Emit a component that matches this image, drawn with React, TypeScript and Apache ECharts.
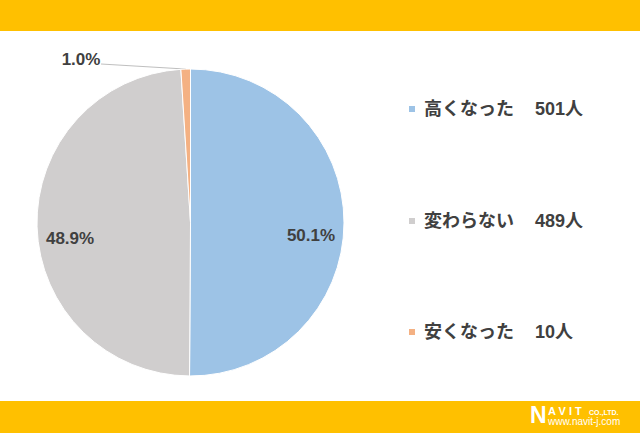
import React, { useEffect, useRef } from "react";
import * as echarts from "echarts";

const categories = ["高くなった", "変わらない", "安くなった"];
const counts = [501, 489, 10];
const colors = ["#9DC3E6", "#D0CECE", "#F4B183"];
const legendTops = [99, 211, 322];

const CX = 190.5;
const CY = 222.5;
const R = 153.5;
const FONT = "'Liberation Sans', 'Noto Sans CJK JP', sans-serif";
const TEXT = "#404040";

export default function App() {
  const ref = useRef<HTMLDivElement>(null);
  useEffect(() => {
    if (!ref.current) return;
    const chart = echarts.init(ref.current, null, { renderer: "svg" });
    const total = counts.reduce((a, b) => a + b, 0);
    const mids: number[] = [];
    let acc = 0;
    counts.forEach((c) => {
      const a = (c / total) * 360;
      mids.push(acc + a / 2);
      acc += a;
    });

    const data = categories.map((name, i) => {
      const inner = i < 2;
      return {
        name,
        value: counts[i],
        itemStyle: { color: colors[i] },
        label: { position: inner ? "inside" : "outside" },
        labelLine: { show: !inner, lineStyle: { color: "#BFBFBF", width: 1 }, length: 5, length2: 20 },
      };
    });

    const txt = {
      fontFamily: FONT,
      fontSize: 18,
      fontWeight: "bold",
      color: TEXT,
      lineHeight: 20,
    };
    const legends = categories.map((name, i) => ({
      data: [{ name, icon: "rect" }],
      left: 407,
      top: legendTops[i],
      padding: 0,
      itemWidth: 8,
      itemHeight: 8,
      selectedMode: false,
      formatter: (n: string) => `{a|${n}}{b|${counts[categories.indexOf(n)]}人}`,
      textStyle: {
        ...txt,
        rich: {
          a: { ...txt, padding: [0, 0, 0, 3] },
          b: { ...txt, padding: [0, 0, 0, 21] },
        },
      },
    }));

    const logoFont = "'Liberation Sans', sans-serif";
    chart.setOption({
      animation: false,
      backgroundColor: "#FFFFFF",
      legend: legends,
      graphic: [
        { type: "rect", shape: { x: 0, y: 0, width: 640, height: 31 }, style: { fill: "#FFC000" }, silent: true },
        { type: "rect", shape: { x: 0, y: 401, width: 640, height: 32 }, style: { fill: "#FFC000" }, silent: true },
        { type: "text", x: 530, y: 403, style: { text: "N", fill: "#FFFFFF", font: `bold 23px ${logoFont}` } },
        { type: "text", x: 548, y: 405, style: { text: "A V I T", fill: "#FFFFFF", font: `bold 11px ${logoFont}` } },
        { type: "text", x: 589, y: 409, style: { text: "CO.,LTD.", fill: "#FFFFFF", font: `bold 7px ${logoFont}` } },
        { type: "text", x: 548, y: 416, style: { text: "www.navit-j.com", fill: "#FFFFFF", font: `10px ${logoFont}` } },
      ],
      series: [
        {
          type: "pie",
          center: [CX, CY],
          radius: [0, R],
          startAngle: 90,
          clockwise: true,
          avoidLabelOverlap: false,
          itemStyle: { borderColor: "#FFFFFF", borderWidth: 1 },
          emphasis: { disabled: true },
          label: {
            show: true,
            formatter: (p: any) => `${p.percent.toFixed(1)}%`,
            fontFamily: FONT,
            fontSize: 17,
            fontWeight: "bold",
            color: TEXT,
          },
          labelLayout: (p: any) => {
            const i = p.dataIndex;
            if (i < 2) {
              const a = (mids[i] * Math.PI) / 180;
              const rr = R * 0.785;
              return {
                x: CX + rr * Math.sin(a),
                y: CY - rr * Math.cos(a) + 13,
                align: "center",
                verticalAlign: "middle",
              };
            }
            const pts = p.labelLinePoints;
            const start = pts ? pts[0] : [CX, CY - R];
            return {
              x: 81,
              y: 59,
              align: "center",
              verticalAlign: "middle",
              labelLinePoints: [start, [101, 64], [101, 64]],
            };
          },
          data,
        },
      ],
    });
    return () => chart.dispose();
  }, []);
  return <div ref={ref} style={{ position: "fixed", left: 0, top: 0, width: 640, height: 434 }} />;
}
